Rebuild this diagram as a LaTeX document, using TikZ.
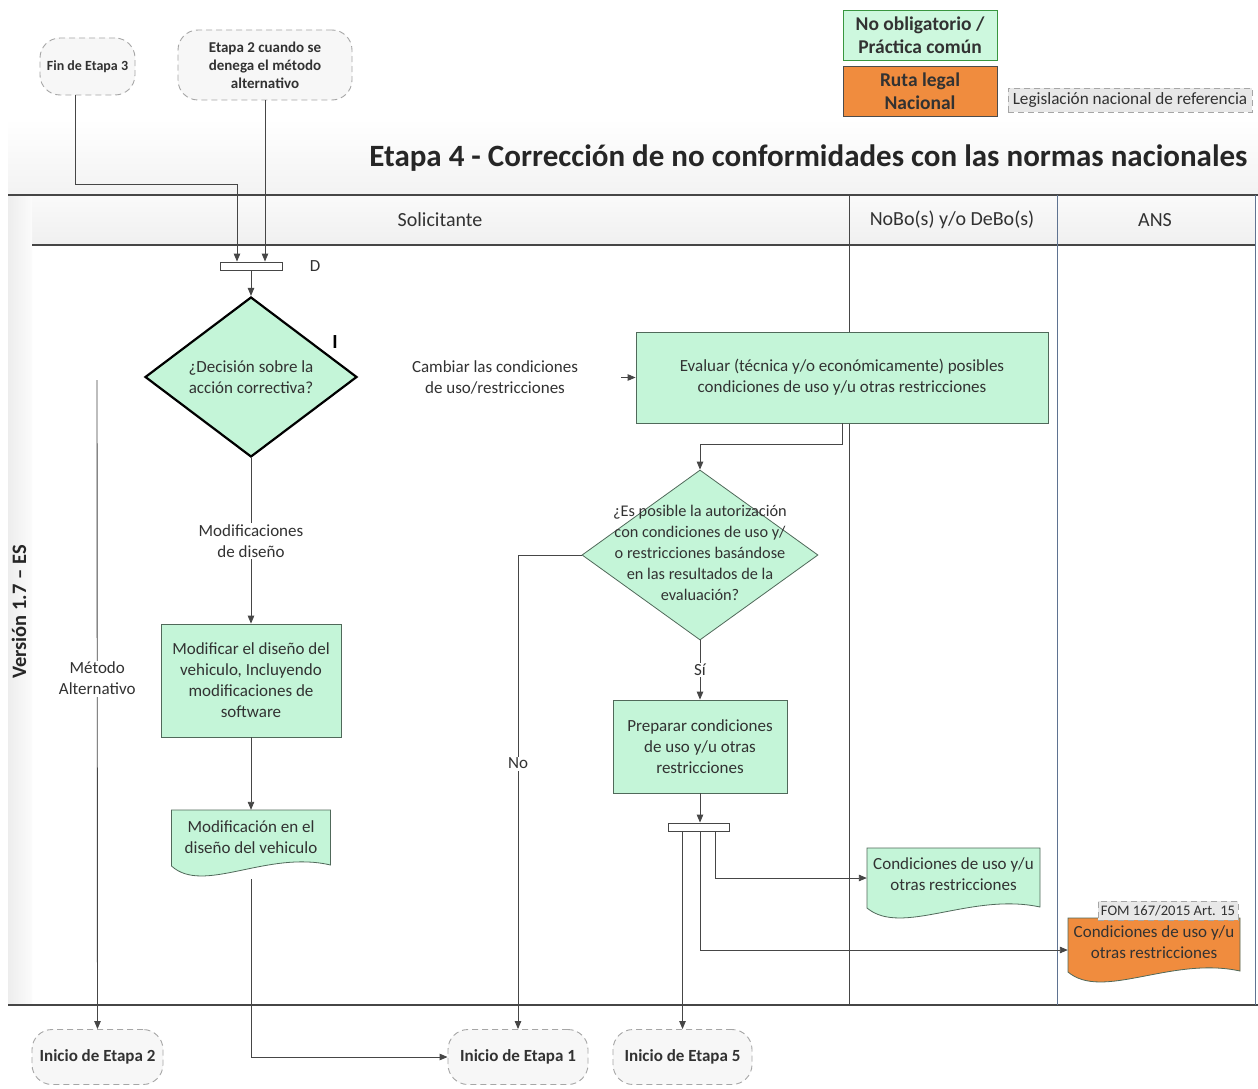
\documentclass[tikz,border=0pt]{standalone}
\usepackage{fontspec}
\setmainfont{Carlito}
\usetikzlibrary{shapes.geometric,arrows.meta,calc}
\definecolor{mint}{RGB}{196,245,216}
\definecolor{mintleg}{RGB}{205,248,222}
\definecolor{mintd}{RGB}{80,105,90}
\definecolor{orafill}{RGB}{240,140,62}
\definecolor{txt}{RGB}{50,50,50}
\definecolor{ln}{RGB}{70,70,70}
\definecolor{lanec}{RGB}{95,115,145}
\newcommand\docat[5]{%
  \path[draw=mintd,line width=0.8pt,fill=#5] (#1-#3/2,#2+#4/2) -- (#1+#3/2,#2+#4/2) -- (#1+#3/2,#2-#4/2)
    .. controls +(-0.4*#3,15) and +(0.2*#3,-29) .. (#1-#3/2,#2-#4/2-1) -- cycle;}
\begin{document}
\begin{tikzpicture}[x=1pt,y=1pt,
  body/.style={font=\fontsize{17}{21}\selectfont,text=txt,align=center},
  lblw/.style={body,fill=white,inner sep=1.5pt},
  boxst/.style={body,draw=mintd,line width=0.8pt,fill=mint,inner sep=2pt},
  dia/.style={diamond,draw=black,line width=2.2pt,fill=mint,inner sep=0pt,aspect=1.3,body},
  term/.style={draw=gray!70,line width=0.9pt,dash pattern=on 6pt off 4pt,fill=gray!6,rounded corners=20pt,
     align=center,text=txt,inner sep=2pt},
  tagst/.style={draw=gray!70,dash pattern=on 6pt off 4pt,fill=gray!18,text=txt,inner sep=1pt,
     font=\fontsize{14.6}{16}\selectfont},
  barst/.style={draw=ln,fill=white,line width=0.9pt,inner sep=0pt},
  doct/.style={body,inner sep=0pt},
  hdr/.style={font=\fontsize{20}{22}\selectfont,text=txt},
  arr/.style={draw=ln,line width=0.9pt,-{Triangle[length=8pt,width=6.5pt]}},
  poolline/.style={draw=ln,line width=1.2pt}
]
\useasboundingbox (0,0) rectangle (1258,-1089);
\fill[white] (0,0) rectangle (1258,-1089);
% pool backgrounds
\shade[top color=white,bottom color=gray!10] (8,-118) rectangle (1258,-195);
\shade[top color=gray!4,bottom color=gray!12] (32,-195) rectangle (1255,-245);
\shade[left color=gray!14,right color=gray!3] (8,-195) rectangle (32,-1005);
% pool lines
\draw[poolline] (8,-195) -- (1258,-195);
\draw[poolline] (32,-245) -- (1255,-245);
\draw[poolline] (8,-1005) -- (1258,-1005);
\draw[draw=ln,line width=1pt] (849,-195) -- (849,-1005);
\draw[draw=lanec,line width=1pt] (1057,-195) -- (1057,-1005);
\draw[draw=lanec,line width=1pt] (1255,-195) -- (1255,-1005);

% legend
\node[draw=mintd!70!green,line width=0.8pt,fill=mintleg,minimum width=154,minimum height=50,align=center,inner sep=0pt,
  font=\bfseries\fontsize{19.5}{23.5}\selectfont,text=txt] (lg1) at (920,-35) {No obligatorio /\\Práctica común};
\node[draw=gray!60!black,line width=0.8pt,fill=orafill,minimum width=154,minimum height=50,align=center,inner sep=0pt,
  font=\bfseries\fontsize{19.5}{23.5}\selectfont,text=txt] (lg2) at (920,-91) {Ruta legal\\Nacional};
\node[tagst,minimum width=244,minimum height=24,font=\fontsize{17.2}{18}\selectfont] (lg3) at (1130,-100) {Legislación nacional de referencia};

% title and headers
\node[anchor=east,font=\bfseries\fontsize{31}{34}\selectfont,text=black!85] (title) at (1251,-158)
  {Etapa 4 - Corrección de no conformidades con las normas nacionales};
\node[hdr] (h1) at (440,-220) {Solicitante};
\node[hdr] (h2) at (952,-220) {NoBo(s) y/o DeBo(s)};
\node[hdr] (h3) at (1155,-220) {ANS};
\node[rotate=90,font=\bfseries\fontsize{20.5}{22}\selectfont,text=black!85] (ver) at (19,-612) {Versión 1.7 – ES};

% terminators
\node[term,minimum width=95,minimum height=57,font=\bfseries\fontsize{14}{17}\selectfont] (fin3) at (87.5,-66.5) {Fin de Etapa 3};
\node[term,minimum width=174,minimum height=70,font=\bfseries\fontsize{15}{18}\selectfont] (e2) at (265,-65)
  {Etapa 2 cuando se\\denega el método\\alternativo};
\node[term,minimum width=131,minimum height=55,font=\bfseries\fontsize{17}{19}\selectfont] (in2) at (97.5,-1057) {Inicio de Etapa 2};
\node[term,minimum width=140,minimum height=55,font=\bfseries\fontsize{17}{19}\selectfont] (in1) at (518,-1057) {Inicio de Etapa 1};
\node[term,minimum width=139,minimum height=55,font=\bfseries\fontsize{17}{19}\selectfont] (in5) at (682.5,-1057) {Inicio de Etapa 5};

% flow nodes
\node[barst,minimum width=62,minimum height=8] (bar1) at (251,-266) {};
\node[body] (dlab) at (315,-266) {D};
\node[dia,minimum width=212,minimum height=160] (d1) at (251,-377) {¿Decisión sobre la\\acción correctiva?};
\node[font=\bfseries\fontsize{20}{20}\selectfont] (ilab) at (335,-342) {I};
\node[body] (camb) at (495,-377) {Cambiar las condiciones\\de uso/restricciones};
\node[boxst,minimum width=412,minimum height=91] (ev) at (842,-377.5)
  {Evaluar (técnica y/o económicamente) posibles\\condiciones de uso y/u otras restricciones};
\node[dia,line width=0.8pt,draw=mintd,minimum width=236,minimum height=170] (d2) at (700,-555) {};
\node[body,font=\fontsize{16.3}{21}\selectfont] (d2t) at (700,-553)
  {¿Es posible la autorización\\con condiciones de uso y/\\o restricciones basándose\\en las resultados de la\\evaluación?};
\node[boxst,minimum width=174,minimum height=93] (prep) at (700,-746.5) {Preparar condiciones\\de uso y/u otras\\restricciones};
\node[barst,minimum width=61,minimum height=8] (bar2) at (698.5,-827) {};
\node[boxst,minimum width=180,minimum height=113] (mod) at (251,-680.5)
  {Modificar el diseño del\\vehiculo, Incluyendo\\modificaciones de\\software};

% documents
\docat{251}{-837.5}{159}{55}{mint}
\node[doct,minimum width=159,minimum height=55] (moddoc) at (251,-837.5) {Modificación en el\\diseño del vehiculo};
\docat{953.5}{-877.5}{173}{59}{mint}
\node[doct,minimum width=173,minimum height=59] (cond1) at (953.5,-874) {Condiciones de uso y/u\\otras restricciones};
\docat{1154}{-944.5}{172}{53}{orafill}
\node[doct,minimum width=172,minimum height=53] (cond2) at (1154,-942) {Condiciones de uso y/u\\otras restricciones};
\node[tagst,minimum width=140,minimum height=19] (fom) at (1168,-910.5) {FOM 167/2015 Art. 15};

% connectors
\draw[arr] ([xshift=-12.5]fin3.south) |- ([xshift=-14,yshift=77]bar1.north) -- ([xshift=-14]bar1.north);
\draw[arr] (e2.south) -- ([xshift=14]bar1.north);
\draw[arr] (bar1.south) -- (d1.north);
\draw[arr] (d1.south) -- node[lblw]{Modificaciones\\de diseño} (mod.north);
\draw[arr] (mod.south) -- (moddoc.north);
\draw[arr] ([yshift=-14]moddoc.south) |- (in1.west);
\coordinate (ma) at (97,-380);
\draw[arr] (ma) -- node[lblw,pos=0.46]{Método\\Alternativo} (in2.north);
\coordinate (cb) at (621,-377.5);
\draw[arr] (cb) -- (ev.west);
\draw[arr] (ev.south) -- ++(0,-21) -| (d2.north);
\draw[arr] (d2.west) -| node[lblw,pos=0.72]{No} (in1.north);
\draw[arr] (d2.south) -- node[lblw]{Sí} (prep.north);
\draw[arr] (prep.south) -- (prep.south |- bar2.north);
\draw[arr] (bar2.south -| in5.north) -- (in5.north);
\draw[arr] ([xshift=16.5]bar2.south) |- ([yshift=-4]cond1.west);
\draw[arr] (prep.south |- bar2.south) |- ([yshift=-8]cond2.west);
\end{tikzpicture}
\end{document}
